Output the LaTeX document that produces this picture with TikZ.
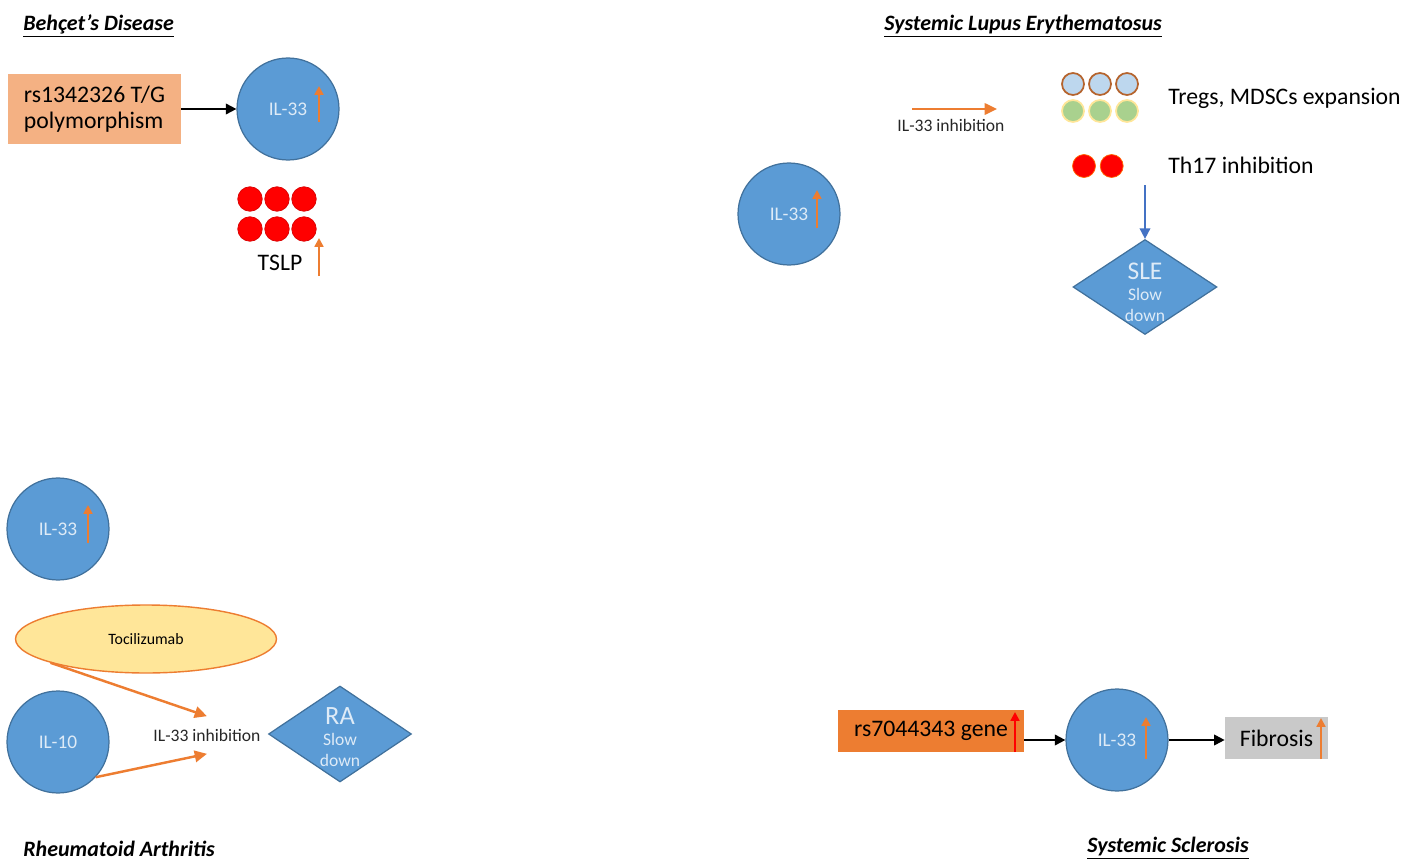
\documentclass[tikz,border=0pt]{standalone}
\usepackage{fontspec}
\setmainfont{Carlito}
\usetikzlibrary{positioning}
\usetikzlibrary{arrows.meta, shapes.geometric}

\definecolor{cellblue}{HTML}{5B9BD5}
\definecolor{celledge}{HTML}{41719C}
\definecolor{celltext}{HTML}{DEEBF7}
\definecolor{salmon}{HTML}{F4B183}
\definecolor{arrorange}{HTML}{ED7D31}
\definecolor{arrblue}{HTML}{4472C4}
\definecolor{tociyellow}{HTML}{FFE699}
\definecolor{tregblue}{HTML}{BDD7EE}
\definecolor{tregedge}{HTML}{B5642E}
\definecolor{mdscgreen}{HTML}{A9D18E}
\definecolor{fibgray}{HTML}{C9C9C9}

\begin{document}
\begin{tikzpicture}[x=0.02cm, y=-0.02cm,
		cell/.style={circle, draw=celledge, fill=cellblue, line width=0.7pt, minimum size=2.04cm, inner sep=0pt, text=celltext, font=\fontsize{11}{13}\selectfont},
		slowbox/.style={diamond, draw=celledge, fill=cellblue, line width=0.7pt, inner sep=0pt},
		diatxt/.style={align=center, text=celltext, inner sep=0pt, font=\fontsize{10}{12}\selectfont},
		snpbox/.style={rectangle, inner sep=0pt, text=black, font=\fontsize{13.5}{15}\selectfont},
		txt/.style={text=black, font=\fontsize{13.5}{15}\selectfont},
		smalltxt/.style={text=black!85, font=\fontsize{10}{12}\selectfont},
		title/.style={anchor=west, inner sep=0pt, font=\fontsize{12.5}{14}\selectfont\bfseries\itshape},
		dotred/.style={circle, fill=red, draw=red!85!black, line width=0.4pt, minimum size=0.5cm, inner sep=0pt},
		link/.style={-{Triangle[length=6pt, width=6pt]}, line width=1.1pt},
		inhib/.style={-{Triangle[length=7pt, width=6.5pt]}, line width=1.4pt, draw=arrorange},
		uparr/.style={-{Triangle[length=5pt, width=5pt]}, line width=1.4pt, draw=arrorange}]

		\useasboundingbox (0,0) rectangle (1418,862);

		% Behcet's Disease
		\begin{scope}
			\node (bd_title) [title] at (23,26) {\underline{Behçet’s Disease}};
			\node (bd_snp) at (94.5,109) [snpbox, fill=salmon, minimum width=3.46cm, minimum height=1.4cm, align=left] {rs1342326 T/G\\polymorphism};
			\node (bd_il33) at (288,109) [cell] {IL-33};
			\draw[link] (bd_snp) -- (bd_il33);
			\coordinate (bd_up) at ([shift={(31,13)}]bd_il33.center);
			\draw[uparr] (bd_up) -- ++(0,-36);

			\foreach \i in {0,1,2}
				\foreach \j in {0,1}
					\node (tslp\i\j) at (250+27*\i, 199+30*\j) [dotred, minimum size=0.49cm] {};
			\node (bd_tslp) at (280,263) [txt] {TSLP};
			\coordinate (bd_tslp_up) at (319,276);
			\draw[uparr] (bd_tslp_up) -- ++(0,-38);
		\end{scope}

		% Systemic Lupus Erythematosus
		\begin{scope}
			\node (sle_title) [title] at (884,26) {\underline{Systemic Lupus Erythematosus}};
			\node (sle_inh) at (951,125) [smalltxt] {IL-33 inhibition};
			\coordinate (sle_inh_a) at (912,109);
			\coordinate (sle_inh_b) at (997,109);
			\draw[inhib, line width=1.2pt] (sle_inh_a) -- (sle_inh_b);

			\foreach \i in {0,1,2} {
				\node (treg\i) at (1073+27*\i, 84) [circle, fill=tregblue, draw=tregedge, line width=1pt, minimum size=0.44cm, inner sep=0pt] {};
				\node (mdsc\i) at (1073+27*\i, 111) [circle, fill=mdscgreen, draw=tociyellow, line width=1pt, minimum size=0.44cm, inner sep=0pt] {};
			}
			\node (sle_exp) at (1168,98) [txt, anchor=west, inner xsep=0pt] {Tregs, MDSCs expansion};

			\node (th17a) at (1084,166) [dotred, minimum size=0.46cm, draw=red!60!yellow] {};
			\node (th17b) [dotred, minimum size=0.46cm, draw=red!60!yellow, right = 0.08cm of th17a] {};
			\node (sle_th17) at (1168,165) [txt, anchor=west, inner xsep=0pt] {Th17 inhibition};

			\node (sle_dia) at (1145,287) [slowbox, minimum width=2.88cm, minimum height=1.9cm] {};
			\node (sle_dia_txt) at ([yshift=-3pt]sle_dia.center) [diatxt] {{\fontsize{14.5}{17}\selectfont SLE}\\Slow\\down};
			\coordinate (sle_down) at (1145,185);
			\draw[link, draw=arrblue, line width=1pt] (sle_down) -- (sle_dia.north);

			\node (sle_il33) at (789,214) [cell] {IL-33};
			\coordinate (sle_up) at ([shift={(28,14)}]sle_il33.center);
			\draw[uparr] (sle_up) -- ++(0,-38);
		\end{scope}

		% Rheumatoid Arthritis
		\begin{scope}
			\node (ra_il33) at (58,529) [cell] {IL-33};
			\coordinate (ra_up) at ([shift={(30,14)}]ra_il33.center);
			\draw[uparr] (ra_up) -- ++(0,-38);

			\node (ra_toci) at (146,639) [ellipse, draw=arrorange, fill=tociyellow, line width=0.8pt, minimum width=5.22cm, minimum height=1.36cm, inner sep=0pt, font=\fontsize{9}{11}\selectfont] {Tocilizumab};
			\node (ra_il10) at (58,742) [cell] {IL-10};
			\node (ra_inh) at (207,735) [smalltxt, inner xsep=0pt, inner ysep=7pt] {IL-33 inhibition};
			\draw[inhib] (ra_toci.194) -- (ra_inh.north);
			\draw[inhib] (ra_il10.-43) -- (ra_inh.south);

			\node (ra_dia) at (340,734) [slowbox, minimum width=2.86cm, minimum height=1.92cm] {};
			\node (ra_dia_txt) at ([yshift=-2pt]ra_dia.center) [diatxt] {{\fontsize{15}{17}\selectfont RA}\\Slow\\down};

			\node (ra_title) [title] at (23,849) {Rheumatoid Arthritis};
		\end{scope}

		% Systemic Sclerosis
		\begin{scope}
			\node (ssc_gene) at (931,731) [snpbox, fill=arrorange, minimum width=3.72cm, minimum height=0.84cm] {rs7044343 gene};
			\coordinate (ssc_gene_up) at (1015,752);
			\draw[uparr, draw=red] (ssc_gene_up) -- ++(0,-40);

			\node (ssc_il33) at (1117,740) [cell] {IL-33};
			\coordinate (ssc_up) at ([shift={(29,19)}]ssc_il33.center);
			\draw[uparr] (ssc_up) -- ++(0,-42);

			\node (ssc_fib) at (1276.5,738) [snpbox, fill=fibgray, minimum width=2.06cm, minimum height=0.84cm] {Fibrosis};
			\coordinate (ssc_fib_up) at (1321,759);
			\draw[uparr] (ssc_fib_up) -- ++(0,-41);

			\draw[link] (ssc_gene.east |- ssc_il33.west) -- (ssc_il33.west);
			\draw[link] (ssc_il33.east) -- (ssc_fib.west |- ssc_il33.east);

			\node (ssc_title) [title] at (1087,848) {\underline{Systemic Sclerosis}};
		\end{scope}

	\end{tikzpicture}
\end{document}
